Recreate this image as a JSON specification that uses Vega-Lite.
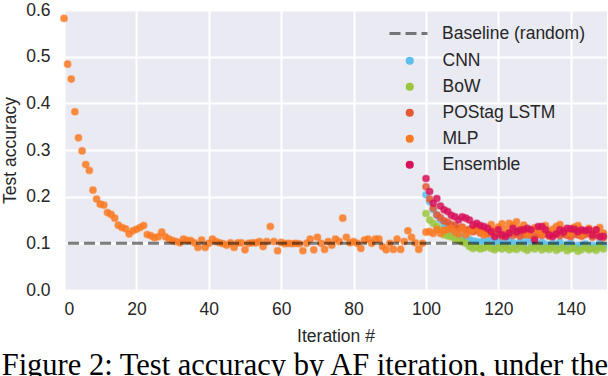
{
  "$schema": "https://vega.github.io/schema/vega-lite/v6.json",
  "autosize": "none",
  "width": 543,
  "height": 280,
  "padding": {"left": 64, "top": 10, "right": 1, "bottom": 86},
  "background": "white",
  "config": {
    "view": {"fill": "#EAEAF2", "stroke": null},
    "font": "Liberation Sans",
    "axis": {
      "domain": false,
      "ticks": false,
      "tickSize": 0,
      "gridColor": "white",
      "gridWidth": 2,
      "labelFont": "Liberation Sans",
      "labelFontSize": 17.5,
      "labelColor": "#262626",
      "titleFont": "Liberation Sans",
      "titleFontSize": 17.5,
      "titleFontWeight": "normal",
      "titleColor": "#262626"
    },
    "legend": {
      "labelFont": "Liberation Sans",
      "labelFontSize": 17.5,
      "labelColor": "#262626",
      "padding": 0
    }
  },
  "title": {
    "text": "Figure 2: Test accuracy by AF iteration, under the",
    "orient": "bottom",
    "anchor": "start",
    "frame": "bounds",
    "font": "Liberation Serif",
    "fontSize": 30.5,
    "fontWeight": "normal",
    "color": "#000000",
    "offset": 6
  },
  "datasets": {
    "runs": [
      {"i":100,"acc":0.204,"model":"CNN"},{"i":101,"acc":0.189,"model":"CNN"},{"i":102,"acc":0.172,"model":"CNN"},{"i":103,"acc":0.16,"model":"CNN"},{"i":104,"acc":0.15,"model":"CNN"},{"i":105,"acc":0.142,"model":"CNN"},{"i":106,"acc":0.136,"model":"CNN"},{"i":107,"acc":0.128,"model":"CNN"},{"i":108,"acc":0.122,"model":"CNN"},{"i":109,"acc":0.118,"model":"CNN"},{"i":110,"acc":0.113,"model":"CNN"},{"i":111,"acc":0.11,"model":"CNN"},{"i":112,"acc":0.108,"model":"CNN"},{"i":113,"acc":0.105,"model":"CNN"},{"i":114,"acc":0.104,"model":"CNN"},{"i":115,"acc":0.102,"model":"CNN"},{"i":116,"acc":0.106,"model":"CNN"},{"i":117,"acc":0.103,"model":"CNN"},{"i":118,"acc":0.107,"model":"CNN"},{"i":119,"acc":0.1,"model":"CNN"},{"i":120,"acc":0.104,"model":"CNN"},{"i":121,"acc":0.102,"model":"CNN"},{"i":122,"acc":0.098,"model":"CNN"},{"i":123,"acc":0.105,"model":"CNN"},{"i":124,"acc":0.101,"model":"CNN"},{"i":125,"acc":0.097,"model":"CNN"},{"i":126,"acc":0.103,"model":"CNN"},{"i":127,"acc":0.099,"model":"CNN"},{"i":128,"acc":0.11,"model":"CNN"},{"i":129,"acc":0.1,"model":"CNN"},{"i":130,"acc":0.1,"model":"CNN"},{"i":131,"acc":0.096,"model":"CNN"},{"i":132,"acc":0.102,"model":"CNN"},{"i":133,"acc":0.098,"model":"CNN"},{"i":134,"acc":0.095,"model":"CNN"},{"i":135,"acc":0.1,"model":"CNN"},{"i":136,"acc":0.097,"model":"CNN"},{"i":137,"acc":0.102,"model":"CNN"},{"i":138,"acc":0.094,"model":"CNN"},{"i":139,"acc":0.098,"model":"CNN"},{"i":140,"acc":0.1,"model":"CNN"},{"i":141,"acc":0.092,"model":"CNN"},{"i":142,"acc":0.096,"model":"CNN"},{"i":143,"acc":0.095,"model":"CNN"},{"i":144,"acc":0.099,"model":"CNN"},{"i":145,"acc":0.09,"model":"CNN"},{"i":146,"acc":0.096,"model":"CNN"},{"i":147,"acc":0.093,"model":"CNN"},{"i":148,"acc":0.1,"model":"CNN"},{"i":149,"acc":0.095,"model":"CNN"},
      {"i":100,"acc":0.164,"model":"BoW"},{"i":101,"acc":0.15,"model":"BoW"},{"i":102,"acc":0.143,"model":"BoW"},{"i":103,"acc":0.136,"model":"BoW"},{"i":104,"acc":0.129,"model":"BoW"},{"i":105,"acc":0.118,"model":"BoW"},{"i":106,"acc":0.116,"model":"BoW"},{"i":107,"acc":0.114,"model":"BoW"},{"i":108,"acc":0.11,"model":"BoW"},{"i":109,"acc":0.107,"model":"BoW"},{"i":110,"acc":0.103,"model":"BoW"},{"i":111,"acc":0.1,"model":"BoW"},{"i":112,"acc":0.093,"model":"BoW"},{"i":113,"acc":0.089,"model":"BoW"},{"i":114,"acc":0.092,"model":"BoW"},{"i":115,"acc":0.088,"model":"BoW"},{"i":116,"acc":0.09,"model":"BoW"},{"i":117,"acc":0.094,"model":"BoW"},{"i":118,"acc":0.089,"model":"BoW"},{"i":119,"acc":0.086,"model":"BoW"},{"i":120,"acc":0.091,"model":"BoW"},{"i":121,"acc":0.088,"model":"BoW"},{"i":122,"acc":0.092,"model":"BoW"},{"i":123,"acc":0.086,"model":"BoW"},{"i":124,"acc":0.09,"model":"BoW"},{"i":125,"acc":0.087,"model":"BoW"},{"i":126,"acc":0.093,"model":"BoW"},{"i":127,"acc":0.089,"model":"BoW"},{"i":128,"acc":0.085,"model":"BoW"},{"i":129,"acc":0.091,"model":"BoW"},{"i":130,"acc":0.088,"model":"BoW"},{"i":131,"acc":0.093,"model":"BoW"},{"i":132,"acc":0.086,"model":"BoW"},{"i":133,"acc":0.09,"model":"BoW"},{"i":134,"acc":0.087,"model":"BoW"},{"i":135,"acc":0.092,"model":"BoW"},{"i":136,"acc":0.085,"model":"BoW"},{"i":137,"acc":0.089,"model":"BoW"},{"i":138,"acc":0.091,"model":"BoW"},{"i":139,"acc":0.084,"model":"BoW"},{"i":140,"acc":0.088,"model":"BoW"},{"i":141,"acc":0.09,"model":"BoW"},{"i":142,"acc":0.083,"model":"BoW"},{"i":143,"acc":0.087,"model":"BoW"},{"i":144,"acc":0.091,"model":"BoW"},{"i":145,"acc":0.086,"model":"BoW"},{"i":146,"acc":0.089,"model":"BoW"},{"i":147,"acc":0.085,"model":"BoW"},{"i":148,"acc":0.092,"model":"BoW"},{"i":149,"acc":0.088,"model":"BoW"},
      {"i":100,"acc":0.221,"model":"POStag LSTM"},{"i":101,"acc":0.195,"model":"POStag LSTM"},{"i":102,"acc":0.175,"model":"POStag LSTM"},{"i":103,"acc":0.161,"model":"POStag LSTM"},{"i":104,"acc":0.155,"model":"POStag LSTM"},{"i":105,"acc":0.148,"model":"POStag LSTM"},{"i":106,"acc":0.145,"model":"POStag LSTM"},{"i":107,"acc":0.14,"model":"POStag LSTM"},{"i":108,"acc":0.138,"model":"POStag LSTM"},{"i":109,"acc":0.132,"model":"POStag LSTM"},{"i":110,"acc":0.135,"model":"POStag LSTM"},{"i":111,"acc":0.128,"model":"POStag LSTM"},{"i":112,"acc":0.13,"model":"POStag LSTM"},{"i":113,"acc":0.125,"model":"POStag LSTM"},{"i":114,"acc":0.128,"model":"POStag LSTM"},{"i":115,"acc":0.122,"model":"POStag LSTM"},{"i":116,"acc":0.125,"model":"POStag LSTM"},{"i":117,"acc":0.12,"model":"POStag LSTM"},{"i":118,"acc":0.123,"model":"POStag LSTM"},{"i":119,"acc":0.118,"model":"POStag LSTM"},{"i":120,"acc":0.121,"model":"POStag LSTM"},{"i":121,"acc":0.115,"model":"POStag LSTM"},{"i":122,"acc":0.119,"model":"POStag LSTM"},{"i":123,"acc":0.122,"model":"POStag LSTM"},{"i":124,"acc":0.117,"model":"POStag LSTM"},{"i":125,"acc":0.12,"model":"POStag LSTM"},{"i":126,"acc":0.115,"model":"POStag LSTM"},{"i":127,"acc":0.119,"model":"POStag LSTM"},{"i":128,"acc":0.122,"model":"POStag LSTM"},{"i":129,"acc":0.118,"model":"POStag LSTM"},{"i":130,"acc":0.112,"model":"POStag LSTM"},{"i":131,"acc":0.12,"model":"POStag LSTM"},{"i":132,"acc":0.117,"model":"POStag LSTM"},{"i":133,"acc":0.121,"model":"POStag LSTM"},{"i":134,"acc":0.115,"model":"POStag LSTM"},{"i":135,"acc":0.118,"model":"POStag LSTM"},{"i":136,"acc":0.122,"model":"POStag LSTM"},{"i":137,"acc":0.116,"model":"POStag LSTM"},{"i":138,"acc":0.12,"model":"POStag LSTM"},{"i":139,"acc":0.117,"model":"POStag LSTM"},{"i":140,"acc":0.114,"model":"POStag LSTM"},{"i":141,"acc":0.12,"model":"POStag LSTM"},{"i":142,"acc":0.118,"model":"POStag LSTM"},{"i":143,"acc":0.115,"model":"POStag LSTM"},{"i":144,"acc":0.119,"model":"POStag LSTM"},{"i":145,"acc":0.121,"model":"POStag LSTM"},{"i":146,"acc":0.113,"model":"POStag LSTM"},{"i":147,"acc":0.118,"model":"POStag LSTM"},{"i":148,"acc":0.116,"model":"POStag LSTM"},{"i":149,"acc":0.112,"model":"POStag LSTM"},
      {"i":0,"acc":0.582,"model":"MLP"},{"i":1,"acc":0.484,"model":"MLP"},{"i":2,"acc":0.452,"model":"MLP"},{"i":3,"acc":0.382,"model":"MLP"},{"i":4,"acc":0.326,"model":"MLP"},{"i":5,"acc":0.298,"model":"MLP"},{"i":6,"acc":0.269,"model":"MLP"},{"i":7,"acc":0.256,"model":"MLP"},{"i":8,"acc":0.214,"model":"MLP"},{"i":9,"acc":0.195,"model":"MLP"},{"i":10,"acc":0.184,"model":"MLP"},{"i":11,"acc":0.182,"model":"MLP"},{"i":12,"acc":0.166,"model":"MLP"},{"i":13,"acc":0.162,"model":"MLP"},{"i":14,"acc":0.154,"model":"MLP"},{"i":15,"acc":0.139,"model":"MLP"},{"i":16,"acc":0.134,"model":"MLP"},{"i":17,"acc":0.131,"model":"MLP"},{"i":18,"acc":0.12,"model":"MLP"},{"i":19,"acc":0.127,"model":"MLP"},{"i":20,"acc":0.13,"model":"MLP"},{"i":21,"acc":0.134,"model":"MLP"},{"i":22,"acc":0.138,"model":"MLP"},{"i":23,"acc":0.119,"model":"MLP"},{"i":24,"acc":0.116,"model":"MLP"},{"i":25,"acc":0.112,"model":"MLP"},{"i":26,"acc":0.114,"model":"MLP"},{"i":27,"acc":0.124,"model":"MLP"},{"i":28,"acc":0.114,"model":"MLP"},{"i":29,"acc":0.109,"model":"MLP"},{"i":30,"acc":0.106,"model":"MLP"},{"i":31,"acc":0.104,"model":"MLP"},{"i":32,"acc":0.101,"model":"MLP"},{"i":33,"acc":0.109,"model":"MLP"},{"i":34,"acc":0.106,"model":"MLP"},{"i":35,"acc":0.106,"model":"MLP"},{"i":36,"acc":0.101,"model":"MLP"},{"i":37,"acc":0.091,"model":"MLP"},{"i":38,"acc":0.107,"model":"MLP"},{"i":39,"acc":0.091,"model":"MLP"},{"i":40,"acc":0.1,"model":"MLP"},{"i":41,"acc":0.109,"model":"MLP"},{"i":42,"acc":0.104,"model":"MLP"},{"i":43,"acc":0.101,"model":"MLP"},{"i":44,"acc":0.099,"model":"MLP"},{"i":45,"acc":0.096,"model":"MLP"},{"i":46,"acc":0.101,"model":"MLP"},{"i":47,"acc":0.091,"model":"MLP"},{"i":48,"acc":0.101,"model":"MLP"},{"i":49,"acc":0.101,"model":"MLP"},{"i":50,"acc":0.086,"model":"MLP"},{"i":51,"acc":0.1,"model":"MLP"},{"i":52,"acc":0.101,"model":"MLP"},{"i":53,"acc":0.101,"model":"MLP"},{"i":54,"acc":0.104,"model":"MLP"},{"i":55,"acc":0.093,"model":"MLP"},{"i":56,"acc":0.104,"model":"MLP"},{"i":57,"acc":0.136,"model":"MLP"},{"i":58,"acc":0.104,"model":"MLP"},{"i":59,"acc":0.084,"model":"MLP"},{"i":60,"acc":0.102,"model":"MLP"},{"i":61,"acc":0.099,"model":"MLP"},{"i":62,"acc":0.1,"model":"MLP"},{"i":63,"acc":0.099,"model":"MLP"},{"i":64,"acc":0.1,"model":"MLP"},{"i":65,"acc":0.099,"model":"MLP"},{"i":66,"acc":0.084,"model":"MLP"},{"i":67,"acc":0.1,"model":"MLP"},{"i":68,"acc":0.109,"model":"MLP"},{"i":69,"acc":0.086,"model":"MLP"},{"i":70,"acc":0.113,"model":"MLP"},{"i":71,"acc":0.1,"model":"MLP"},{"i":72,"acc":0.087,"model":"MLP"},{"i":73,"acc":0.104,"model":"MLP"},{"i":74,"acc":0.096,"model":"MLP"},{"i":75,"acc":0.109,"model":"MLP"},{"i":76,"acc":0.104,"model":"MLP"},{"i":77,"acc":0.154,"model":"MLP"},{"i":78,"acc":0.113,"model":"MLP"},{"i":79,"acc":0.101,"model":"MLP"},{"i":80,"acc":0.104,"model":"MLP"},{"i":81,"acc":0.1,"model":"MLP"},{"i":82,"acc":0.089,"model":"MLP"},{"i":83,"acc":0.107,"model":"MLP"},{"i":84,"acc":0.109,"model":"MLP"},{"i":85,"acc":0.1,"model":"MLP"},{"i":86,"acc":0.109,"model":"MLP"},{"i":87,"acc":0.109,"model":"MLP"},{"i":88,"acc":0.093,"model":"MLP"},{"i":89,"acc":0.086,"model":"MLP"},{"i":90,"acc":0.1,"model":"MLP"},{"i":91,"acc":0.087,"model":"MLP"},{"i":92,"acc":0.109,"model":"MLP"},{"i":93,"acc":0.087,"model":"MLP"},{"i":94,"acc":0.104,"model":"MLP"},{"i":95,"acc":0.127,"model":"MLP"},{"i":96,"acc":0.113,"model":"MLP"},{"i":97,"acc":0.101,"model":"MLP"},{"i":98,"acc":0.087,"model":"MLP"},{"i":99,"acc":0.1,"model":"MLP"},{"i":100,"acc":0.124,"model":"MLP"},{"i":101,"acc":0.125,"model":"MLP"},{"i":102,"acc":0.121,"model":"MLP"},{"i":103,"acc":0.13,"model":"MLP"},{"i":104,"acc":0.121,"model":"MLP"},{"i":105,"acc":0.128,"model":"MLP"},{"i":106,"acc":0.129,"model":"MLP"},{"i":107,"acc":0.132,"model":"MLP"},{"i":108,"acc":0.125,"model":"MLP"},{"i":109,"acc":0.12,"model":"MLP"},{"i":110,"acc":0.132,"model":"MLP"},{"i":111,"acc":0.118,"model":"MLP"},{"i":112,"acc":0.125,"model":"MLP"},{"i":113,"acc":0.13,"model":"MLP"},{"i":114,"acc":0.136,"model":"MLP"},{"i":115,"acc":0.125,"model":"MLP"},{"i":116,"acc":0.118,"model":"MLP"},{"i":117,"acc":0.122,"model":"MLP"},{"i":118,"acc":0.14,"model":"MLP"},{"i":119,"acc":0.128,"model":"MLP"},{"i":120,"acc":0.135,"model":"MLP"},{"i":121,"acc":0.142,"model":"MLP"},{"i":122,"acc":0.13,"model":"MLP"},{"i":123,"acc":0.143,"model":"MLP"},{"i":124,"acc":0.138,"model":"MLP"},{"i":125,"acc":0.146,"model":"MLP"},{"i":126,"acc":0.132,"model":"MLP"},{"i":127,"acc":0.139,"model":"MLP"},{"i":128,"acc":0.118,"model":"MLP"},{"i":129,"acc":0.125,"model":"MLP"},{"i":130,"acc":0.133,"model":"MLP"},{"i":131,"acc":0.128,"model":"MLP"},{"i":132,"acc":0.12,"model":"MLP"},{"i":133,"acc":0.138,"model":"MLP"},{"i":134,"acc":0.125,"model":"MLP"},{"i":135,"acc":0.13,"model":"MLP"},{"i":136,"acc":0.136,"model":"MLP"},{"i":137,"acc":0.14,"model":"MLP"},{"i":138,"acc":0.128,"model":"MLP"},{"i":139,"acc":0.122,"model":"MLP"},{"i":140,"acc":0.121,"model":"MLP"},{"i":141,"acc":0.135,"model":"MLP"},{"i":142,"acc":0.138,"model":"MLP"},{"i":143,"acc":0.118,"model":"MLP"},{"i":144,"acc":0.126,"model":"MLP"},{"i":145,"acc":0.132,"model":"MLP"},{"i":146,"acc":0.12,"model":"MLP"},{"i":147,"acc":0.128,"model":"MLP"},{"i":148,"acc":0.134,"model":"MLP"},{"i":149,"acc":0.122,"model":"MLP"},
      {"i":100,"acc":0.239,"model":"Ensemble"},{"i":101,"acc":0.211,"model":"Ensemble"},{"i":102,"acc":0.186,"model":"Ensemble"},{"i":103,"acc":0.196,"model":"Ensemble"},{"i":104,"acc":0.18,"model":"Ensemble"},{"i":105,"acc":0.172,"model":"Ensemble"},{"i":106,"acc":0.168,"model":"Ensemble"},{"i":107,"acc":0.16,"model":"Ensemble"},{"i":108,"acc":0.157,"model":"Ensemble"},{"i":109,"acc":0.15,"model":"Ensemble"},{"i":110,"acc":0.157,"model":"Ensemble"},{"i":111,"acc":0.154,"model":"Ensemble"},{"i":112,"acc":0.15,"model":"Ensemble"},{"i":113,"acc":0.139,"model":"Ensemble"},{"i":114,"acc":0.143,"model":"Ensemble"},{"i":115,"acc":0.138,"model":"Ensemble"},{"i":116,"acc":0.136,"model":"Ensemble"},{"i":117,"acc":0.132,"model":"Ensemble"},{"i":118,"acc":0.125,"model":"Ensemble"},{"i":119,"acc":0.114,"model":"Ensemble"},{"i":120,"acc":0.129,"model":"Ensemble"},{"i":121,"acc":0.118,"model":"Ensemble"},{"i":122,"acc":0.114,"model":"Ensemble"},{"i":123,"acc":0.122,"model":"Ensemble"},{"i":124,"acc":0.132,"model":"Ensemble"},{"i":125,"acc":0.125,"model":"Ensemble"},{"i":126,"acc":0.128,"model":"Ensemble"},{"i":127,"acc":0.129,"model":"Ensemble"},{"i":128,"acc":0.132,"model":"Ensemble"},{"i":129,"acc":0.129,"model":"Ensemble"},{"i":130,"acc":0.107,"model":"Ensemble"},{"i":131,"acc":0.136,"model":"Ensemble"},{"i":132,"acc":0.136,"model":"Ensemble"},{"i":133,"acc":0.129,"model":"Ensemble"},{"i":134,"acc":0.118,"model":"Ensemble"},{"i":135,"acc":0.114,"model":"Ensemble"},{"i":136,"acc":0.12,"model":"Ensemble"},{"i":137,"acc":0.129,"model":"Ensemble"},{"i":138,"acc":0.124,"model":"Ensemble"},{"i":139,"acc":0.132,"model":"Ensemble"},{"i":140,"acc":0.131,"model":"Ensemble"},{"i":141,"acc":0.13,"model":"Ensemble"},{"i":142,"acc":0.125,"model":"Ensemble"},{"i":143,"acc":0.129,"model":"Ensemble"},{"i":144,"acc":0.127,"model":"Ensemble"},{"i":145,"acc":0.129,"model":"Ensemble"},{"i":146,"acc":0.118,"model":"Ensemble"},{"i":147,"acc":0.129,"model":"Ensemble"},{"i":148,"acc":0.114,"model":"Ensemble"},{"i":149,"acc":0.115,"model":"Ensemble"}
    ],
    "baseline": [{"acc": 0.1, "name": "Baseline (random)"}]
  },
  "layer": [
    {
      "data": {"name": "runs"},
      "mark": {"type": "point", "shape": "circle", "filled": true, "size": 44, "fillOpacity": 0.85, "strokeOpacity": 0.45, "strokeWidth": 1.5},
      "encoding": {
        "x": {"field": "i", "type": "quantitative", "scale": {"domain": [0, 150], "nice": false},
              "axis": {"values": [0,20,40,60,80,100,120,140], "title": "Iteration #", "labelPadding": 10, "titlePadding": 10, "grid": true}},
        "y": {"field": "acc", "type": "quantitative", "scale": {"domain": [0, 0.6], "nice": false},
              "axis": {"values": [0,0.1,0.2,0.3,0.4,0.5,0.6], "format": ".1f", "title": "Test accuracy", "labelPadding": 14, "titlePadding": 6}},
        "color": {"field": "model", "type": "nominal",
                  "scale": {"domain": ["CNN","BoW","POStag LSTM","MLP","Ensemble"], "range": ["#5BC0EB","#9BC53D","#E55934","#FA7921","#D81159"]},
                  "legend": {"title": null, "orient": "none", "legendX": 337, "legendY": 42, "symbolType": "circle", "symbolSize": 44, "symbolStrokeWidth": 1.5, "labelOffset": 24, "rowPadding": 7}},
        "stroke": {"field": "model", "type": "nominal", "scale": {"domain": ["CNN","BoW","POStag LSTM","MLP","Ensemble"], "range": ["#5BC0EB","#9BC53D","#E55934","#FA7921","#D81159"]}, "legend": null}
      }
    },
    {
      "data": {"name": "baseline"},
      "mark": {"type": "rule", "color": "black", "opacity": 0.5, "strokeWidth": 3},
      "encoding": {
        "y": {"field": "acc", "type": "quantitative"},
        "strokeDash": {"field": "name", "type": "nominal", "scale": {"range": [[11, 5]]},
                       "legend": {"title": null, "orient": "none", "legendX": 324, "legendY": 3, "symbolType": "stroke", "symbolSize": 1444, "symbolStrokeWidth": 3, "labelOffset": 13,
                                  "encode": {"symbols": {"update": {"stroke": {"value": "#777777"}, "opacity": {"value": 1}}}}}}
      }
    }
  ]
}
